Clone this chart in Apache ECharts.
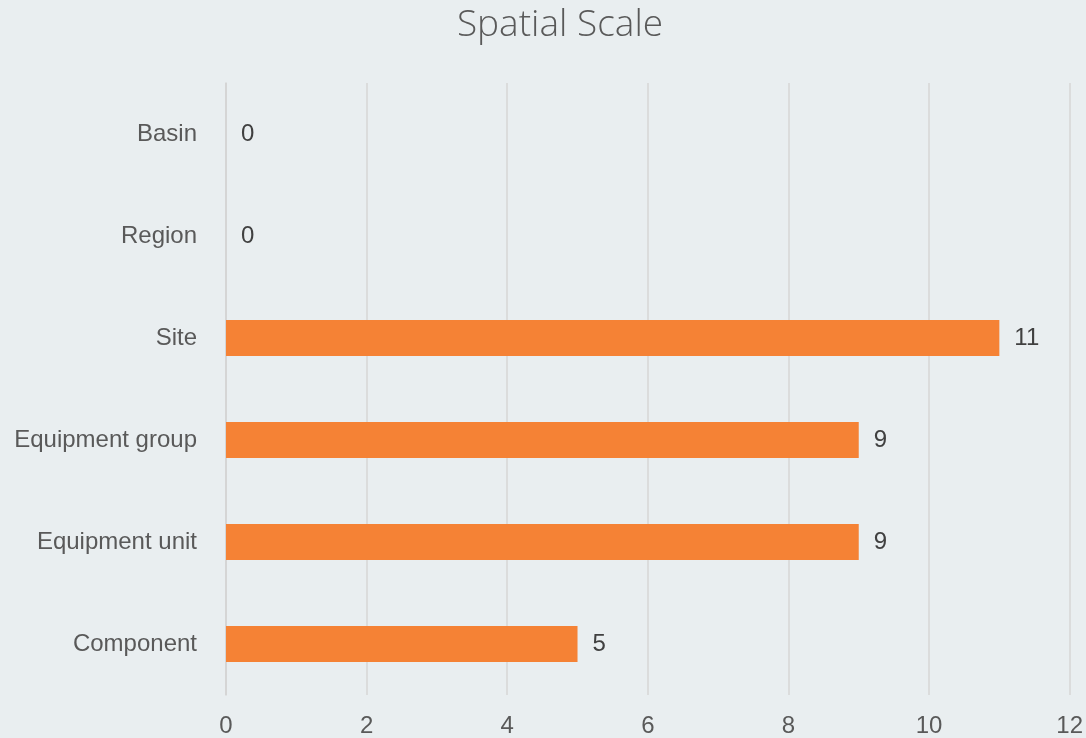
<!DOCTYPE html>
<html><head><meta charset="utf-8">
<script src="https://cdn.jsdelivr.net/npm/echarts@6/dist/echarts.min.js"></script>
<style>html,body{margin:0;padding:0;background:#E9EEF0}#c{width:1086px;height:738px}</style>
</head><body><div id="c"></div>
<script>
var categories = ["Component","Equipment unit","Equipment group","Site","Region","Basin"];
var values = [5,9,9,11,0,0];
var xTicks = [0,2,4,6,8,10,12];
var chart = echarts.init(document.getElementById('c'));
chart.setOption({
  backgroundColor:'#E9EEF0',
  animation:false,
  title:{text:'Spatial Scale',left:555,top:2,textAlign:'center',
    textStyle:{fontFamily:'Open Sans',fontWeight:300,fontSize:37,color:'#595959'}},
  grid:{left:226,right:16,top:83,bottom:43,containLabel:false},
  xAxis:{type:'value',min:xTicks[0],max:xTicks[xTicks.length-1],interval:2,
    axisLine:{show:false},axisTick:{show:false},
    splitLine:{lineStyle:{color:'#D6D6D6',width:1.5}},
    axisLabel:{fontFamily:'Liberation Sans',fontSize:24,color:'#595959',margin:19}},
  yAxis:{type:'category',data:categories,
    axisLine:{show:true,lineStyle:{color:'#D3D3D3',width:1.5}},axisTick:{show:false},
    axisLabel:{fontFamily:'Liberation Sans',fontSize:24,color:'#595959',margin:29}},
  series:[{type:'bar',data:values,barWidth:36,itemStyle:{color:'#F58235'},
    label:{show:true,position:'right',distance:15,fontFamily:'Liberation Sans',fontSize:24,color:'#404040'}}]
});
</script></body></html>
